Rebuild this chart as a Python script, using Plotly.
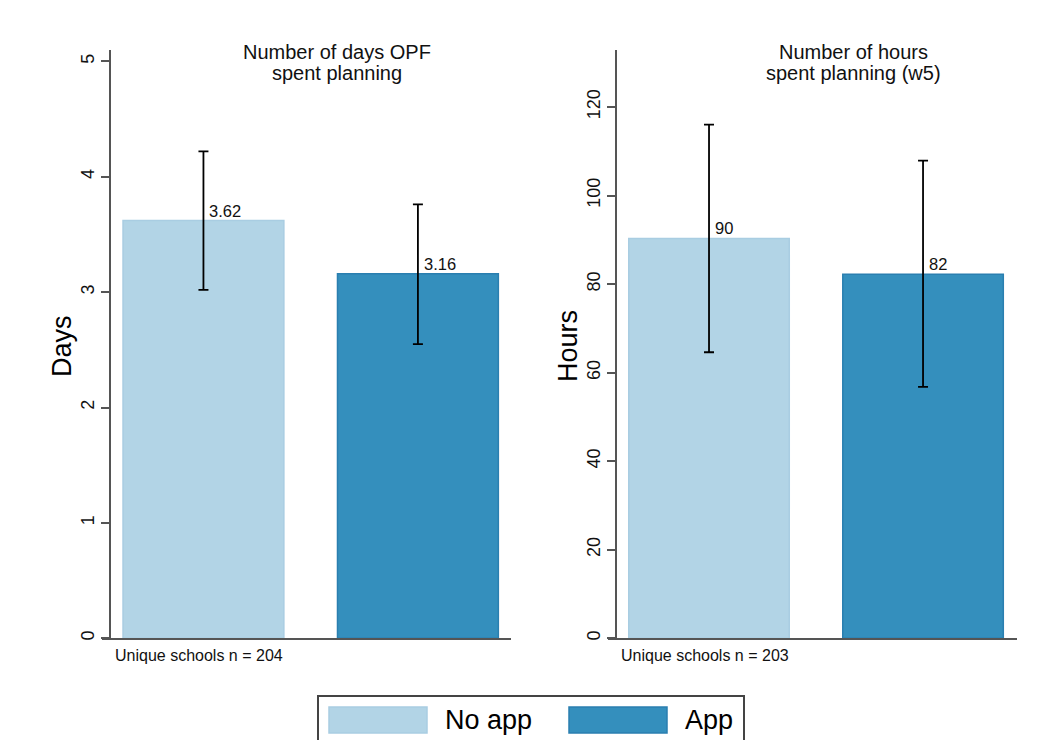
import plotly.graph_objects as go

W, H = 1038, 740

groups = ["No app", "App"]
colors_fill = ["#b2d4e6", "#348fbd"]
colors_line = ["#a9cde2", "#2a7fb0"]

days_mean = [3.62, 3.16]
days_upper = [4.22, 3.76]
days_lower = [3.02, 2.55]

hours_mean = [90.3, 82.2]
hours_upper = [116.0, 107.9]
hours_lower = [64.6, 56.8]

panel_titles = ["Number of days OPF<br>spent planning", "Number of hours<br>spent planning (w5)"]
y_titles = ["Days", "Hours"]
notes = ["Unique schools n = 204", "Unique schools n = 203"]

xpos = [1, 2]


def px(x):
    return x / W


def py(y):
    return 1 - y / H


fig = go.Figure()

panels = [
    dict(mean=days_mean, up=days_upper, lo=days_lower, xa="x", ya="y", fmt="{:.2f}"),
    dict(mean=hours_mean, up=hours_upper, lo=hours_lower, xa="x2", ya="y2", fmt="{:.0f}"),
]

for p in panels:
    for i, g in enumerate(groups):
        fig.add_trace(go.Bar(
            x=[xpos[i]], y=[p["mean"][i]], width=0.75,
            marker=dict(color=colors_fill[i], line=dict(color=colors_line[i], width=1.5)),
            error_y=dict(type="data", symmetric=False,
                         array=[p["up"][i] - p["mean"][i]],
                         arrayminus=[p["mean"][i] - p["lo"][i]],
                         color="black", thickness=1.8, width=5),
            xaxis=p["xa"], yaxis=p["ya"], showlegend=False, name=g,
        ))
        fig.add_annotation(
            x=xpos[i], y=p["mean"][i], xref=p["xa"], yref=p["ya"],
            text=p["fmt"].format(p["mean"][i]), showarrow=False,
            xanchor="left", yanchor="bottom", xshift=4, yshift=-1,
            font=dict(size=16.5, color="#111", family="Liberation Sans, Arial"),
        )

ydom = [py(640), py(50)]
axis_common = dict(showgrid=False, zeroline=False, showline=True, linecolor="#555", linewidth=1.5)

fig.update_layout(
    width=W, height=H,
    margin=dict(l=0, r=0, t=0, b=0),
    paper_bgcolor="white", plot_bgcolor="white",
    barmode="overlay",
    font=dict(family="Liberation Sans, Arial", color="#111"),
    xaxis=dict(domain=[px(102), px(511)], range=[0.527, 2.434], showticklabels=False,
               ticks="", anchor="y", **axis_common),
    yaxis=dict(domain=ydom, range=[0, 5.1], anchor="free", position=px(110),
               tickmode="linear", tick0=0, dtick=1, ticks="outside", ticklen=8,
               tickwidth=1.5, tickcolor="#555", tickangle=-90,
               tickfont=dict(size=18, color="#111"), **axis_common),
    xaxis2=dict(domain=[px(608), px(1017)], range=[0.528, 2.439], showticklabels=False,
                ticks="", anchor="y2", **axis_common),
    yaxis2=dict(domain=ydom, range=[0, 132.9], anchor="free", position=px(616),
                tickmode="linear", tick0=0, dtick=20, ticks="outside", ticklen=8,
                tickwidth=1.5, tickcolor="#555", tickangle=-90,
                tickfont=dict(size=18, color="#111"), **axis_common),
)

# panel titles (two lines each, placed separately for tight line spacing)
for t, cx in zip(panel_titles, [337, 853]):
    for line, cy in zip(t.split("<br>"), [52, 73]):
        fig.add_annotation(x=px(cx), y=py(cy), xref="paper", yref="paper", text=line,
                           showarrow=False, xanchor="center", yanchor="middle",
                           font=dict(size=20, color="#111"))

# y-axis titles
for t, cx in zip(y_titles, [62, 568]):
    fig.add_annotation(x=px(cx), y=py(347), xref="paper", yref="paper", text=t,
                       showarrow=False, textangle=-90, xanchor="center", yanchor="middle",
                       font=dict(size=27, color="black"))

# notes
for t, lx in zip(notes, [113, 619]):
    fig.add_annotation(x=px(lx), y=py(657), xref="paper", yref="paper", text=t,
                       showarrow=False, xanchor="left", yanchor="middle",
                       font=dict(size=16, color="#111"))

# legend (drawn box)
fig.add_shape(type="rect", xref="paper", yref="paper",
              x0=px(318), x1=px(744), y0=py(760), y1=py(698),
              line=dict(color="#444", width=2), fillcolor="white")
for i, g in enumerate(groups):
    sx = [329, 569][i]
    fig.add_shape(type="rect", xref="paper", yref="paper",
                  x0=px(sx), x1=px(sx + 98), y0=py(735), y1=py(709),
                  line=dict(color=colors_line[i], width=1.5), fillcolor=colors_fill[i])
    fig.add_annotation(x=px(sx + 114), y=py(722), xref="paper", yref="paper", text=g,
                       showarrow=False, xanchor="left", yanchor="middle",
                       font=dict(size=27, color="black"))

fig.write_html("out.html", config={"displayModeBar": False},
               post_script="document.body.style.margin='0';")
